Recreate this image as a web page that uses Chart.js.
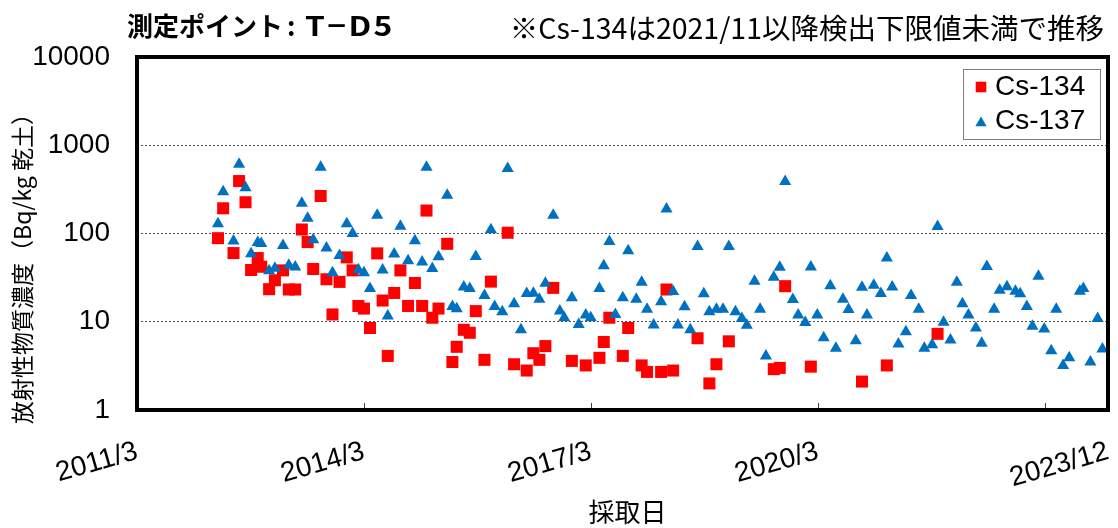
<!DOCTYPE html>
<html lang="ja">
<head>
<meta charset="utf-8">
<title>測定ポイント T-D5</title>
<script src="https://cdn.jsdelivr.net/npm/chart.js@4.4.1/dist/chart.umd.min.js"></script>
<style>
  html, body { margin: 0; padding: 0; background: #fff; }
  #wrap { width: 1118px; height: 528px; }
</style>
</head>
<body>
<div id="wrap"><canvas id="chart" width="1118" height="528"></canvas></div>
<script>
"use strict";

const sampleDates = [
  '2012-03-26', '2012-04-20', '2012-06-09', '2012-07-06', '2012-08-06', '2012-09-02', '2012-10-04', '2012-10-21',
  '2012-11-28', '2012-12-26', '2013-02-03', '2013-03-03', '2013-04-03', '2013-05-05', '2013-06-02', '2013-06-29',
  '2013-08-04', '2013-09-01', '2013-09-30', '2013-11-03', '2013-12-08', '2014-01-05', '2014-02-02', '2014-03-01',
  '2014-03-30', '2014-05-04', '2014-05-30', '2014-06-24', '2014-07-25', '2014-08-24', '2014-09-30', '2014-11-02',
  '2014-12-07', '2014-12-28', '2015-01-25', '2015-02-24', '2015-04-07', '2015-05-02', '2015-05-23', '2015-06-26',
  '2015-07-25', '2015-08-23', '2015-10-04', '2015-11-04', '2015-11-22', '2015-12-29', '2016-01-24', '2016-02-24',
  '2016-03-28', '2016-04-25', '2016-05-27', '2016-06-25', '2016-07-24', '2016-08-31', '2016-10-02', '2016-10-23',
  '2016-11-29', '2017-01-01', '2017-02-04', '2017-02-28', '2017-04-11', '2017-05-02', '2017-05-29', '2017-06-27',
  '2017-08-02', '2017-08-28', '2017-10-06', '2017-11-01', '2017-11-27', '2017-12-29', '2018-02-03', '2018-03-01',
  '2018-04-02', '2018-04-25', '2018-05-27', '2018-06-24', '2018-07-29', '2018-08-28', '2018-09-24', '2018-10-28',
  '2018-11-29', '2018-12-27', '2019-01-28', '2019-02-28', '2019-03-24', '2019-04-30', '2019-05-27', '2019-06-24',
  '2019-08-01', '2019-08-30', '2019-09-25', '2019-11-01', '2019-11-27', '2019-12-31', '2020-01-27', '2020-02-27',
  '2020-03-29', '2020-04-30', '2020-05-27', '2020-06-30', '2020-07-27', '2020-08-31', '2020-09-30', '2020-10-24',
  '2020-11-26', '2020-12-30', '2021-01-28', '2021-02-23', '2021-03-25', '2021-04-30', '2021-05-25', '2021-07-01',
  '2021-07-28', '2021-09-04', '2021-09-30', '2021-10-29', '2021-12-01', '2022-01-01', '2022-01-28', '2022-02-26',
  '2022-04-03', '2022-05-01', '2022-05-26', '2022-06-30', '2022-07-27', '2022-08-31', '2022-10-11', '2022-11-03',
  '2022-12-05', '2023-01-01', '2023-01-30', '2023-02-27', '2023-04-02', '2023-04-26', '2023-05-29', '2023-06-28',
  '2023-08-18', '2023-09-04', '2023-10-08', '2023-11-12', '2023-12-05'
];

// null = 検出下限値未満
const cs134 = [
  88.5, 193, 60, 393, 226, 38.6, 52.7, 42,
  23.4, 29.5, 38.2, 23.2, 23.2, 111, 80, 39.6,
  266, 30.3, 12.1, 28.3, 53.6, 38.2, 15.1, 14.1,
  8.5, 59.5, 17.4, 4.1, 21.2, 38.2, 15.1, 27.5,
  15.1, 182, 11.1, 14.1, 76.4, 3.5, 5.2, 8.1,
  7.5, 13.2, 3.7, 28.5, null, null, 102, 3.3,
  null, 2.8, 4.4, 3.7, 5.3, 24.2, null, null,
  3.6, null, 3.2, null, 3.9, 5.9, 11.1, null,
  4.1, 8.5, null, 3.2, 2.7, null, 2.7, 23.2,
  2.8, null, null, null, 6.5, null, 2.0, 3.3,
  null, 6.0, null, null, null, null, null, null,
  2.9, 3.0, 25.3, null, null, null, 3.1, null,
  null, null, null, null, null, null, 2.1, null,
  null, null, 3.2, null, null, null, null, null,
  null, null, 7.3, null, null, null, null, null,
  null, null, null, null, null, null, null, null,
  null, null, null, null, null, null, null, null,
  null, null, null, null, null
];

const cs137 = [
  129, 298, 82, 611, 330, 59, 79, 77,
  37.9, 40.3, 73.3, 43.6, 41.7, 220, 149, 84.8,
  565, 68.3, 36, 56.5, 129, 100, 38.9, 36,
  23.8, 161, 38.6, 11.6, 58.5, 121, 49.2, 82.7,
  47.5, 565, 40, 54.6, 271, 14.9, 14, 24.8,
  23.8, 55, 19.8, 110, 14.9, 13, 546, 16,
  8.1, 20.9, 21, 18, 27.3, 161, 13.2, 11.1,
  18.7, 9.3, 11.9, 11.1, 23.8, 43.2, 81.3, 12.1,
  18.7, 63.8, 18, 28, 13.9, 9.2, 16.8, 190,
  22, 9.2, 14.8, 8.1, 71.3, 20.7, 13, 13.9,
  13.9, 71.3, 13, 10.9, 9.1, 28.8, 13.9, 4.1,
  31.9, 41.4, 389, 17.9, 11.9, 9.8, 41.7, 11.9,
  6.6, 25.5, 5.0, 18, 13.8, 6.1, 24.6, 11.9,
  26, 20.9, 52.7, 24.8, 5.6, 7.7, 19.8, 13.9,
  5.0, 5.5, 120, 9.9, 6.2, 28, 16, 11.9,
  8.5, 5.7, 42.4, 13.9, 22.8, 25, 22.2, 20.7,
  14.9, 8.9, 32.7, 8.3, 4.7, 13.9, 3.2, 3.9,
  22.2, 23.8, 3.5, 10.9, 4.9
];

const xTickDates = ['2011-03-01', '2014-03-01', '2017-03-01', '2020-03-01', '2023-03-01', '2024-01-01'];
const xTickLabels = ['2011/3', '2014/3', '2017/3', '2020/3', '', '2023/12'];
const yTicks = [1, 10, 100, 1000, 10000];

const titleMain = '測定ポイント';
const titleCode = 'T−D5';
const noteText = '※Cs-134は2021/11以降検出下限値未満で推移';
const yTitleText = '放射性物質濃度（Bq/kg 乾土）';
const xTitleText = '採取日';

const cjkFont = '"Noto Sans CJK JP", sans-serif';
const latinFont = '"Liberation Sans", Arial, sans-serif';

const toPoints = (values) => {
  const points = [];
  values.forEach((v, i) => {
    if (v !== null) {
      points.push({ x: Date.parse(sampleDates[i]), y: v });
    }
  });
  return points;
};

const series = [
  { label: 'Cs-134', data: cs134, color: '#ff0000', style: 'rect', radius: 8.5, order: 1 },
  { label: 'Cs-137', data: cs137, color: '#0070c0', style: 'triangle', radius: 7, order: 0 }
];

const extrasPlugin = {
  id: 'extras',
  afterDatasetsDraw(chart) {
    const ctx = chart.ctx;
    const area = chart.chartArea;
    const xScale = chart.scales.x;

    ctx.save();
    ctx.strokeStyle = '#404040';
    ctx.lineWidth = 1;
    xTickDates.slice(1, -1).forEach((d) => {
      const px = Math.round(xScale.getPixelForValue(Date.parse(d))) + 0.5;
      ctx.beginPath();
      ctx.moveTo(px, area.bottom);
      ctx.lineTo(px, area.bottom - 7);
      ctx.stroke();
    });

    ctx.strokeStyle = '#000';
    ctx.lineWidth = 4;
    ctx.strokeRect(area.left, area.top, area.right - area.left, area.bottom - area.top);
    ctx.restore();
  },
  afterDraw(chart) {
    const ctx = chart.ctx;
    const area = chart.chartArea;
    ctx.save();
    ctx.fillStyle = '#000';

    ctx.font = 'bold 26px ' + cjkFont;
    ctx.textAlign = 'left';
    ctx.textBaseline = 'middle';
    ctx.fillText(titleMain, 127, 26);
    ctx.fillText(':', 287, 26);
    ctx.save();
    ctx.translate(305, 26);
    ctx.scale(1.18, 1);
    ctx.font = 'bold 27px ' + cjkFont;
    ctx.letterSpacing = '2px';
    ctx.fillText(titleCode, 0, 0);
    ctx.restore();

    ctx.font = '28.5px ' + cjkFont;
    ctx.textAlign = 'right';
    ctx.fillText(noteText, 1104, 28);

    ctx.font = '26px ' + cjkFont;
    ctx.textAlign = 'center';
    ctx.fillText(xTitleText, (area.left + area.right) / 2 + 5, 512);

    ctx.save();
    ctx.translate(22, 263);
    ctx.rotate(-Math.PI / 2);
    ctx.font = '23px ' + cjkFont;
    ctx.fillText(yTitleText, 0, 0);
    ctx.restore();

    // legend box
    ctx.fillStyle = '#fff';
    ctx.fillRect(963, 69, 137, 70);
    ctx.strokeStyle = '#7f7f7f';
    ctx.lineWidth = 1;
    ctx.strokeRect(963.5, 69.5, 137, 70);
    const rows = [87, 121];
    series.forEach((s, i) => {
      ctx.fillStyle = s.color;
      Chart.helpers.drawPoint(ctx, { pointStyle: s.style, radius: s.style === 'rect' ? 7.5 : 6.5, rotation: 0, borderWidth: 0 }, 981, rows[i] + (s.style === 'rect' ? 0 : 2));
      ctx.fillStyle = '#000';
      ctx.font = '28px ' + latinFont;
      ctx.textAlign = 'left';
      ctx.textBaseline = 'middle';
      ctx.fillText(s.label, 995, rows[i]);
    });
    ctx.restore();
  }
};

const ctx = document.getElementById('chart').getContext('2d');
const chart = new Chart(ctx, {
  type: 'scatter',
  data: {
    datasets: series.map((s) => ({
      label: s.label,
      data: toPoints(s.data),
      pointStyle: s.style,
      pointRadius: s.radius,
      pointHoverRadius: s.radius,
      backgroundColor: s.color,
      borderColor: s.color,
      borderWidth: 0,
      order: s.order
    }))
  },
  options: {
    responsive: false,
    animation: false,
    layout: { padding: { left: 0, right: 10, top: 57, bottom: 0 } },
    plugins: {
      legend: { display: false },
      tooltip: { enabled: false }
    },
    scales: {
      x: {
        type: 'linear',
        min: Date.parse(xTickDates[0]),
        max: Date.parse(xTickDates[xTickDates.length - 1]),
        grid: { display: false },
        border: { display: false },
        afterBuildTicks: (scale) => {
          scale.ticks = xTickDates.map((d) => ({ value: Date.parse(d) }));
        },
        afterFit: (scale) => {
          scale.height = 118;
          scale.paddingLeft = 0;
          scale.paddingRight = 0;
        },
        ticks: {
          autoSkip: false,
          minRotation: 16,
          maxRotation: 16,
          padding: 17,
          color: '#000',
          font: { family: latinFont, size: 28 },
          callback: (value, index) => xTickLabels[index]
        }
      },
      y: {
        type: 'logarithmic',
        min: 1,
        max: 10000,
        afterBuildTicks: (scale) => {
          scale.ticks = yTicks.map((v) => ({ value: v }));
        },
        afterFit: (scale) => {
          scale.width = 137;
        },
        grid: { color: '#505050', lineWidth: 1, drawTicks: false },
        border: { display: false, dash: [2, 2] },
        ticks: {
          padding: 27,
          color: '#000',
          font: { family: latinFont, size: 28 },
          callback: (value) => String(value)
        }
      }
    }
  },
  plugins: [extrasPlugin]
});
</script>
</body>
</html>
